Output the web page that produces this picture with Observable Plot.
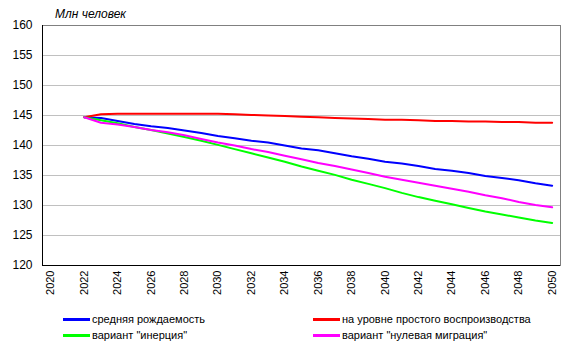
<!DOCTYPE html>
<html>
<head>
<meta charset="utf-8">
<script src="https://cdn.jsdelivr.net/npm/d3@7"></script>
<script src="https://cdn.jsdelivr.net/npm/@observablehq/plot@0.6"></script>
<style>
  body { margin: 0; background: #fff; font-family: "Liberation Sans", Arial, sans-serif; }
  #wrap { position: relative; width: 576px; height: 357px; }
  #title { position: absolute; left: 55px; top: 6px; font-size: 12px; font-style: italic; line-height: 16px; color: #000; }
  .leg { position: absolute; font-size: 11px; line-height: 14px; color: #000; white-space: nowrap; }
  .leg span.sw { position: absolute; left: 0; top: 6px; width: 27px; height: 3px; }
  .leg span.tx { position: absolute; left: 29px; top: 0; }
</style>
</head>
<body>
<div id="wrap">
  <div id="title">Млн человек</div>
</div>
<script>
const years = d3.range(2022, 2051);
const seriesNames = ["средняя рождаемость", "на уровне простого воспроизводства", "вариант \"инерция\"", "вариант \"нулевая миграция\""];
const seriesColors = ["#0000ff", "#ff0000", "#00ff00", "#ff00ff"];
const medium = [144.7, 144.6, 144.1, 143.6, 143.2, 142.9, 142.5, 142.1, 141.6, 141.2, 140.8, 140.5, 140.0, 139.5, 139.2, 138.7, 138.2, 137.8, 137.3, 137.0, 136.6, 136.1, 135.8, 135.4, 134.9, 134.6, 134.2, 133.7, 133.3];
const replacement = [144.7, 145.2, 145.3, 145.3, 145.3, 145.3, 145.3, 145.3, 145.3, 145.2, 145.1, 145.0, 144.9, 144.8, 144.7, 144.6, 144.5, 144.4, 144.3, 144.3, 144.2, 144.1, 144.1, 144.0, 144.0, 143.9, 143.9, 143.8, 143.8];
const inertia = [144.7, 144.2, 143.7, 143.1, 142.6, 142.0, 141.4, 140.8, 140.1, 139.4, 138.7, 138.0, 137.3, 136.5, 135.8, 135.1, 134.3, 133.6, 132.9, 132.1, 131.4, 130.8, 130.2, 129.6, 129.0, 128.5, 128.0, 127.5, 127.1];
const zeroMigration = [144.7, 143.8, 143.5, 143.1, 142.6, 142.2, 141.7, 141.1, 140.5, 140.0, 139.4, 138.9, 138.3, 137.7, 137.1, 136.6, 136.0, 135.4, 134.8, 134.3, 133.8, 133.3, 132.8, 132.3, 131.7, 131.2, 130.6, 130.1, 129.7];
const xTicks = d3.range(2020, 2051, 2);
const yTicks = d3.range(120, 161, 5);

const allSeries = [medium, replacement, inertia, zeroMigration];
const table = [];
allSeries.forEach((vals, i) => vals.forEach((v, j) => table.push({year: years[j], value: v, series: seriesNames[i]})));

const W = 576, H = 305;
const chart = Plot.plot({
  width: W, height: H,
  marginTop: 25, marginBottom: 40, marginLeft: 42, marginRight: 16,
  style: {fontFamily: "Liberation Sans, Arial, sans-serif", background: "#fff", color: "#000"},
  x: {domain: [2019.5, 2050.5]},
  y: {domain: [120, 160]},
  color: {domain: seriesNames, range: seriesColors},
  marks: [
    Plot.gridY(yTicks.filter(d => d > 120 && d < 160), {stroke: "#c0c0c0", strokeOpacity: 1}),
    Plot.frame({stroke: "#808080"}),
    Plot.ruleX([2019.5], {stroke: "#000"}),
    Plot.ruleY([120], {stroke: "#000"}),
    Plot.axisY(yTicks, {tickSize: 0, tickPadding: 10, fontSize: 12, label: null}),
    Plot.axisX(xTicks, {tickSize: 0, tickPadding: 5, tickRotate: -90, fontSize: 11, label: null, tickFormat: d => String(d)}),
    Plot.line(table, {x: "year", y: "value", z: "series", stroke: "series", strokeWidth: 2})
  ]
});
const wrap = document.getElementById("wrap");
wrap.insertBefore(chart, wrap.firstChild);

const legPos = [[63, 312], [313, 312], [63, 328], [313, 328]];
seriesNames.forEach((name, i) => {
  const d = document.createElement("div");
  d.className = "leg";
  d.style.left = legPos[i][0] + "px";
  d.style.top = legPos[i][1] + "px";
  const sw = document.createElement("span");
  sw.className = "sw";
  sw.style.background = seriesColors[i];
  const tx = document.createElement("span");
  tx.className = "tx";
  tx.textContent = name;
  d.appendChild(sw); d.appendChild(tx);
  wrap.appendChild(d);
});
</script>
</body>
</html>
